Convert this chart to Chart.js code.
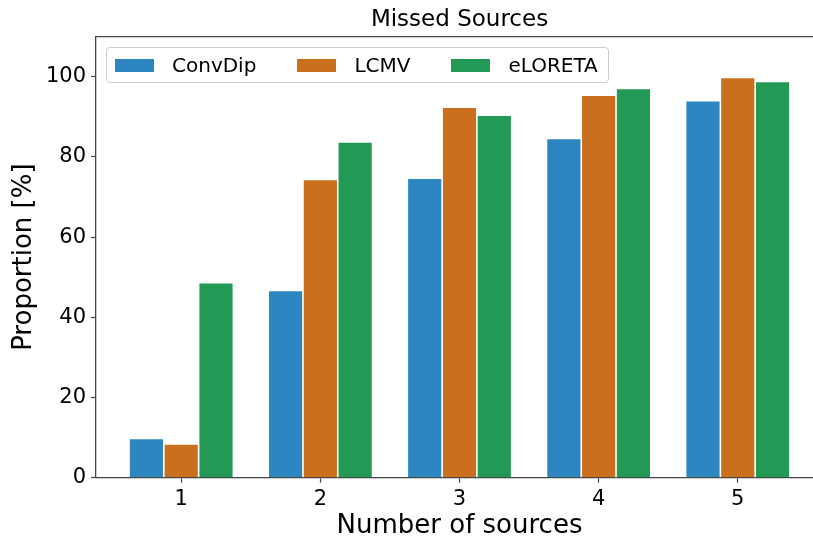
<!DOCTYPE html>
<html>
<head>
<meta charset="utf-8">
<script src="https://cdn.jsdelivr.net/npm/chart.js@4/dist/chart.umd.min.js"></script>
<style>
  html, body { margin: 0; padding: 0; background: #fff; overflow: hidden; }
  #wrap { position: relative; width: 823px; height: 542px; }
  #legend {
    position: absolute; left: 106px; top: 47px; width: 501px; height: 34px;
    border: 1px solid #cccccc; border-radius: 4px; background: rgba(255,255,255,0.8);
    display: flex; align-items: center; font-family: "DejaVu Sans"; font-size: 20px; color: #000;
  }
  .item { display: flex; align-items: center; margin-left: 8px; margin-right: 33px; }
  .item:last-child { margin-right: 0; }
  .sw { width: 39px; height: 13px; margin-right: 18px; }
</style>
</head>
<body>
<div id="wrap">
  <canvas id="grafico"></canvas>
  <div id="legend"></div>
</div>
<script>
const nFontes = [1, 2, 3, 4, 5];
const convDip = [9.8, 46.7, 74.7, 84.6, 94.0];
const lcmv = [8.4, 74.4, 92.4, 95.4, 99.8];
const eloreta = [48.6, 83.7, 90.4, 97.1, 98.8];
const ticksY = [0, 20, 40, 60, 80, 100];

const nomes = ['ConvDip', 'LCMV', 'eLORETA'];
const cores = ['#2E86C1', '#CA6F1E', '#229954'];
const fonte = "DejaVu Sans";
const corEixo = '#444444';

Chart.defaults.font.family = fonte;
Chart.defaults.color = '#000';

function pontos(valores) {
    return valores.map((v, i) => ({ x: nFontes[i], y: v }));
}

// linha de cima do quadro (spine superior)
const bordaTopo = {
    id: 'bordaTopo',
    afterDraw(chart) {
        const { ctx, chartArea } = chart;
        ctx.save();
        ctx.strokeStyle = corEixo;
        ctx.lineWidth = 1.3;
        ctx.beginPath();
        ctx.moveTo(chartArea.left, chartArea.top);
        ctx.lineTo(chartArea.right, chartArea.top);
        ctx.stroke();
        ctx.restore();
    }
};

const series = [convDip, lcmv, eloreta];
const dados = {
    datasets: series.map((s, i) => ({
        label: nomes[i],
        data: pontos(s),
        backgroundColor: cores[i],
        borderColor: '#ffffff',
        borderWidth: 0.8,
        categoryPercentage: 0.75,
        barPercentage: 1.0
    }))
};

const config = {
    type: 'bar',
    data: dados,
    plugins: [bordaTopo],
    options: {
        responsive: true,
        maintainAspectRatio: false,
        animation: false,
        layout: { padding: 0 },
        plugins: {
            legend: { display: false },
            tooltip: { enabled: false },
            title: {
                display: true,
                fullSize: false,
                text: 'Missed Sources',
                font: { size: 23, weight: 'normal' },
                color: '#000',
                padding: { top: 6, bottom: 3 }
            }
        },
        scales: {
            x: {
                type: 'linear',
                min: 0.3875,
                max: 5.6125,
                offset: false,
                z: 1,
                afterBuildTicks: s => { s.ticks = nFontes.map(v => ({ value: v })); },
                afterFit: s => { s.height = 64.3; },
                ticks: { font: { size: 21 }, color: '#000', padding: 4 },
                grid: { offset: false, drawOnChartArea: false, drawTicks: true, tickLength: 5, color: corEixo, tickWidth: 1.2 },
                border: { display: true, color: corEixo, width: 1.3 },
                title: { display: true, text: 'Number of sources', font: { size: 26 }, color: '#000', padding: { top: 0, bottom: 0 } }
            },
            y: {
                min: 0,
                max: 110,
                z: 1,
                afterBuildTicks: s => { s.ticks = ticksY.map(v => ({ value: v })); },
                afterFit: s => { s.width = 96; },
                ticks: { font: { size: 21 }, color: '#000', padding: 5 },
                grid: { drawOnChartArea: false, drawTicks: true, tickLength: 5, color: corEixo, tickWidth: 1.2 },
                border: { display: true, color: corEixo, width: 1.3 },
                title: { display: true, text: 'Proportion [%]', font: { size: 26 }, color: '#000', padding: { top: 9, bottom: 0 } }
            }
        }
    }
};

const GRAFICO = new Chart(document.getElementById('grafico'), config);

// legenda em HTML dentro do quadro
const legenda = document.getElementById('legend');
nomes.forEach((n, i) => {
    const item = document.createElement('div');
    item.className = 'item';
    item.innerHTML = '<div class="sw" style="background:' + cores[i] + '"></div><span>' + n + '</span>';
    legenda.appendChild(item);
});
</script>
</body>
</html>
